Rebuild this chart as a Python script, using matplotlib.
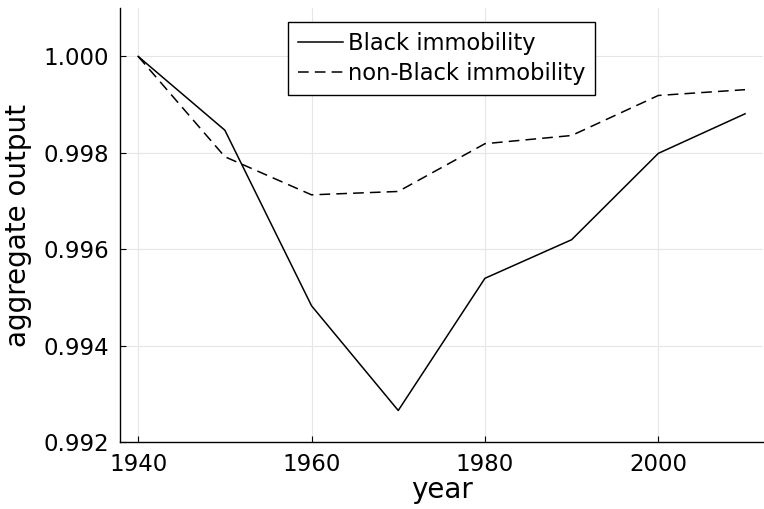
import matplotlib
matplotlib.use("Agg")
import matplotlib.pyplot as plt

# aggregate output relative to 1940, by decade
years = [1940, 1950, 1960, 1970, 1980, 1990, 2000, 2010]
black_immob = [1.0, 0.99847, 0.99483, 0.99266, 0.99540, 0.99620, 0.99799, 0.99881]
nonblack_immob = [1.0, 0.99792, 0.99713, 0.99720, 0.99819, 0.99836, 0.99919, 0.99931]

fig = plt.figure(figsize=(7.64, 5.09), dpi=100)
ax = fig.add_axes([0.157, 0.131, 0.842, 0.853])

ax.plot(years, black_immob, color='black', lw=1.1, label='Black immobility')
ax.plot(years, nonblack_immob, color='black', lw=1.1, dashes=(7, 4), label='non-Black immobility')

ax.set_xlim(1937.9, 2012.1)
ax.set_ylim(0.992, 1.001)
ax.set_xticks([1940, 1960, 1980, 2000])
ax.set_yticks([0.992, 0.994, 0.996, 0.998, 1.000])
ax.set_yticklabels(['%.3f' % v for v in [0.992, 0.994, 0.996, 0.998, 1.000]])

ax.grid(True, color='#e6e6e6', lw=0.8)
ax.set_axisbelow(True)
for side in ['top', 'right']:
    ax.spines[side].set_visible(False)
for side in ['left', 'bottom']:
    ax.spines[side].set_linewidth(1.0)
ax.tick_params(direction='in', length=4, width=0.8, labelsize=16.5)
ax.tick_params(axis='x', pad=8)
ax.tick_params(axis='y', pad=8)

ax.set_xlabel('year', fontsize=20, labelpad=0)
ax.set_ylabel('aggregate output', fontsize=20, labelpad=8)

leg = ax.legend(loc='upper center', fontsize=16.3, frameon=True, fancybox=False,
                framealpha=1, edgecolor='black', borderpad=0.45, handlelength=2.0,
                handletextpad=0.2, labelspacing=0.3, borderaxespad=0,
                bbox_to_anchor=(0.5, 0.968))
leg.get_frame().set_linewidth(1.0)

fig.savefig('out.png', dpi=100)
